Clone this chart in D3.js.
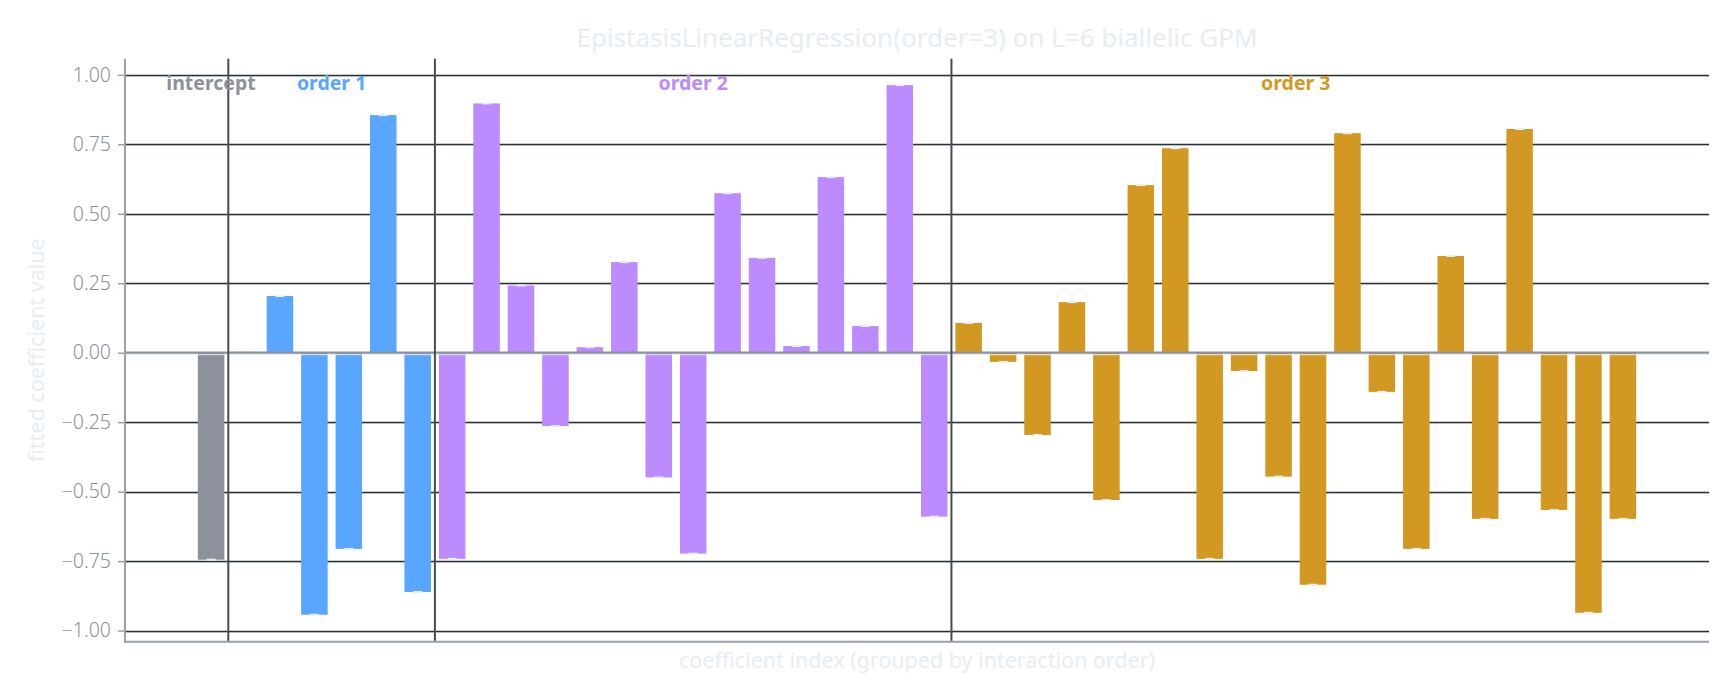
<!DOCTYPE html>
<html><head><meta charset="utf-8">
<script src="https://cdn.jsdelivr.net/npm/d3@7"></script>
<style>
html,body{margin:0;padding:0;background:#fff;}
svg{display:block;font-family:"Noto Sans","Open Sans",sans-serif;}
</style></head>
<body>
<svg id="chart" width="1734" height="699"></svg>
<script>
const groups = ["intercept","order 1","order 2","order 3"];
const groupColors = ["#8b929c","#58a6ff","#bc8cff","#d29922"];
const interceptValues = [-0.745];
const order1Values = [0.003,0.204,-0.943,-0.706,0.855,-0.861];
const order2Values = [-0.742,0.897,0.242,-0.264,0.020,0.326,-0.449,-0.723,0.574,0.341,0.024,0.632,0.096,0.963,-0.590];
const order3Values = [0.107,-0.033,-0.296,0.182,-0.530,0.603,0.736,-0.742,-0.066,-0.446,-0.835,0.790,-0.141,-0.706,0.348,-0.598,0.805,-0.566,-0.936,-0.598];
const yTicks = [-1.0,-0.75,-0.5,-0.25,0,0.25,0.5,0.75,1.0];
const titleText = "EpistasisLinearRegression(order=3) on L=6 biallelic GPM";
const xLabel = "coefficient index (grouped by interaction order)";
const yLabel = "fitted coefficient value";

const seriesList = [interceptValues, order1Values, order2Values, order3Values];
const data = [];
seriesList.forEach((vals, g) => vals.forEach(v => data.push({g, v, i: data.length})));

const svg = d3.select("#chart");
const L = 125, R = 1709, T = 58.7, B = 641.7;
const x = d3.scaleLinear().domain([-2.5, data.length + 1.5]).range([L, R]);
const y = d3.scaleLinear().domain([-1.04, 1.058]).range([B, T]);
const bw = (x(1) - x(0)) * 0.77;

// gridlines
const grid = svg.append("g");
yTicks.forEach(t => {
  if (t === 0) return;
  grid.append("line").attr("x1", L).attr("x2", R).attr("y1", Math.round(y(t)) + 1.5).attr("y2", Math.round(y(t)) + 1.5)
    .attr("stroke", "#e6eaee").attr("stroke-width", 1);
  grid.append("line").attr("x1", L).attr("x2", R).attr("y1", Math.round(y(t)) + 0.5).attr("y2", Math.round(y(t)) + 0.5)
    .attr("stroke", "#2b3037").attr("stroke-width", 1.3);
});

// bars
svg.append("g").selectAll("rect").data(data).join("rect")
  .attr("x", d => x(d.i) - bw / 2)
  .attr("width", bw)
  .attr("y", d => Math.min(y(d.v), y(0)))
  .attr("height", d => Math.abs(y(d.v) - y(0)))
  .attr("fill", d => groupColors[d.g]);

// caps
svg.append("g").selectAll("line").data(data).join("line")
  .attr("x1", d => x(d.i) - 4.5).attr("x2", d => x(d.i) + 4.5)
  .attr("y1", d => y(d.v)).attr("y2", d => y(d.v))
  .attr("stroke", "#e6edf3").attr("stroke-width", 2);

// zero line
svg.append("line").attr("x1", L).attr("x2", R).attr("y1", y(0) + 2).attr("y2", y(0) + 2)
  .attr("stroke", "#e6eaee").attr("stroke-width", 1);
svg.append("line").attr("x1", L).attr("x2", R).attr("y1", y(0)).attr("y2", y(0))
  .attr("stroke", "#8b929c").attr("stroke-width", 2.2);

// group separators
let cum = 0;
const bounds = [];
seriesList.forEach((vals, g) => { bounds.push([cum, cum + vals.length - 1]); cum += vals.length; });
bounds.slice(0, -1).forEach(b => {
  svg.append("line").attr("x1", x(b[1] + 0.5)).attr("x2", x(b[1] + 0.5)).attr("y1", T).attr("y2", B)
    .attr("stroke", "#474c54").attr("stroke-width", 2);
});

// group labels
bounds.forEach((b, g) => {
  svg.append("text").attr("x", x((b[0] + b[1]) / 2)).attr("y", y(1) + 15)
    .attr("text-anchor", "middle").attr("font-weight", "bold").attr("font-size", 19.5)
    .attr("fill", groupColors[g]).text(groups[g]);
});

// y axis
const yAxis = d3.axisLeft(y).tickValues(yTicks).tickFormat(d3.format(".2f")).tickSize(7).tickPadding(7);
const ga = svg.append("g").attr("transform", `translate(${L},0)`).call(yAxis);
ga.select(".domain").remove();
ga.selectAll(".tick line").attr("stroke", "#9aa1a8").attr("stroke-width", 1.5);
ga.selectAll(".tick text").attr("fill", "#8b929c").attr("font-size", 19.5).attr("font-family", "'Noto Sans',sans-serif").attr("font-weight", 300);
svg.append("line").attr("x1", L).attr("x2", L).attr("y1", T).attr("y2", B + 1).attr("stroke", "#9aa1a8").attr("stroke-width", 2);
svg.append("line").attr("x1", L - 1).attr("x2", R).attr("y1", B).attr("y2", B).attr("stroke", "#9aa1a8").attr("stroke-width", 2);

// title & labels
svg.append("text").attr("x", (L + R) / 2).attr("y", 47).attr("text-anchor", "middle")
  .attr("font-size", 26).attr("fill", "#e6edf3").text(titleText);
svg.append("text").attr("x", (L + R) / 2).attr("y", 668).attr("text-anchor", "middle")
  .attr("font-size", 21.5).attr("fill", "#e6edf3").text(xLabel);
svg.append("text").attr("transform", `translate(44,${(T + B) / 2}) rotate(-90)`).attr("text-anchor", "middle")
  .attr("font-size", 21.5).attr("fill", "#e6edf3").text(yLabel);
</script>
</body></html>
